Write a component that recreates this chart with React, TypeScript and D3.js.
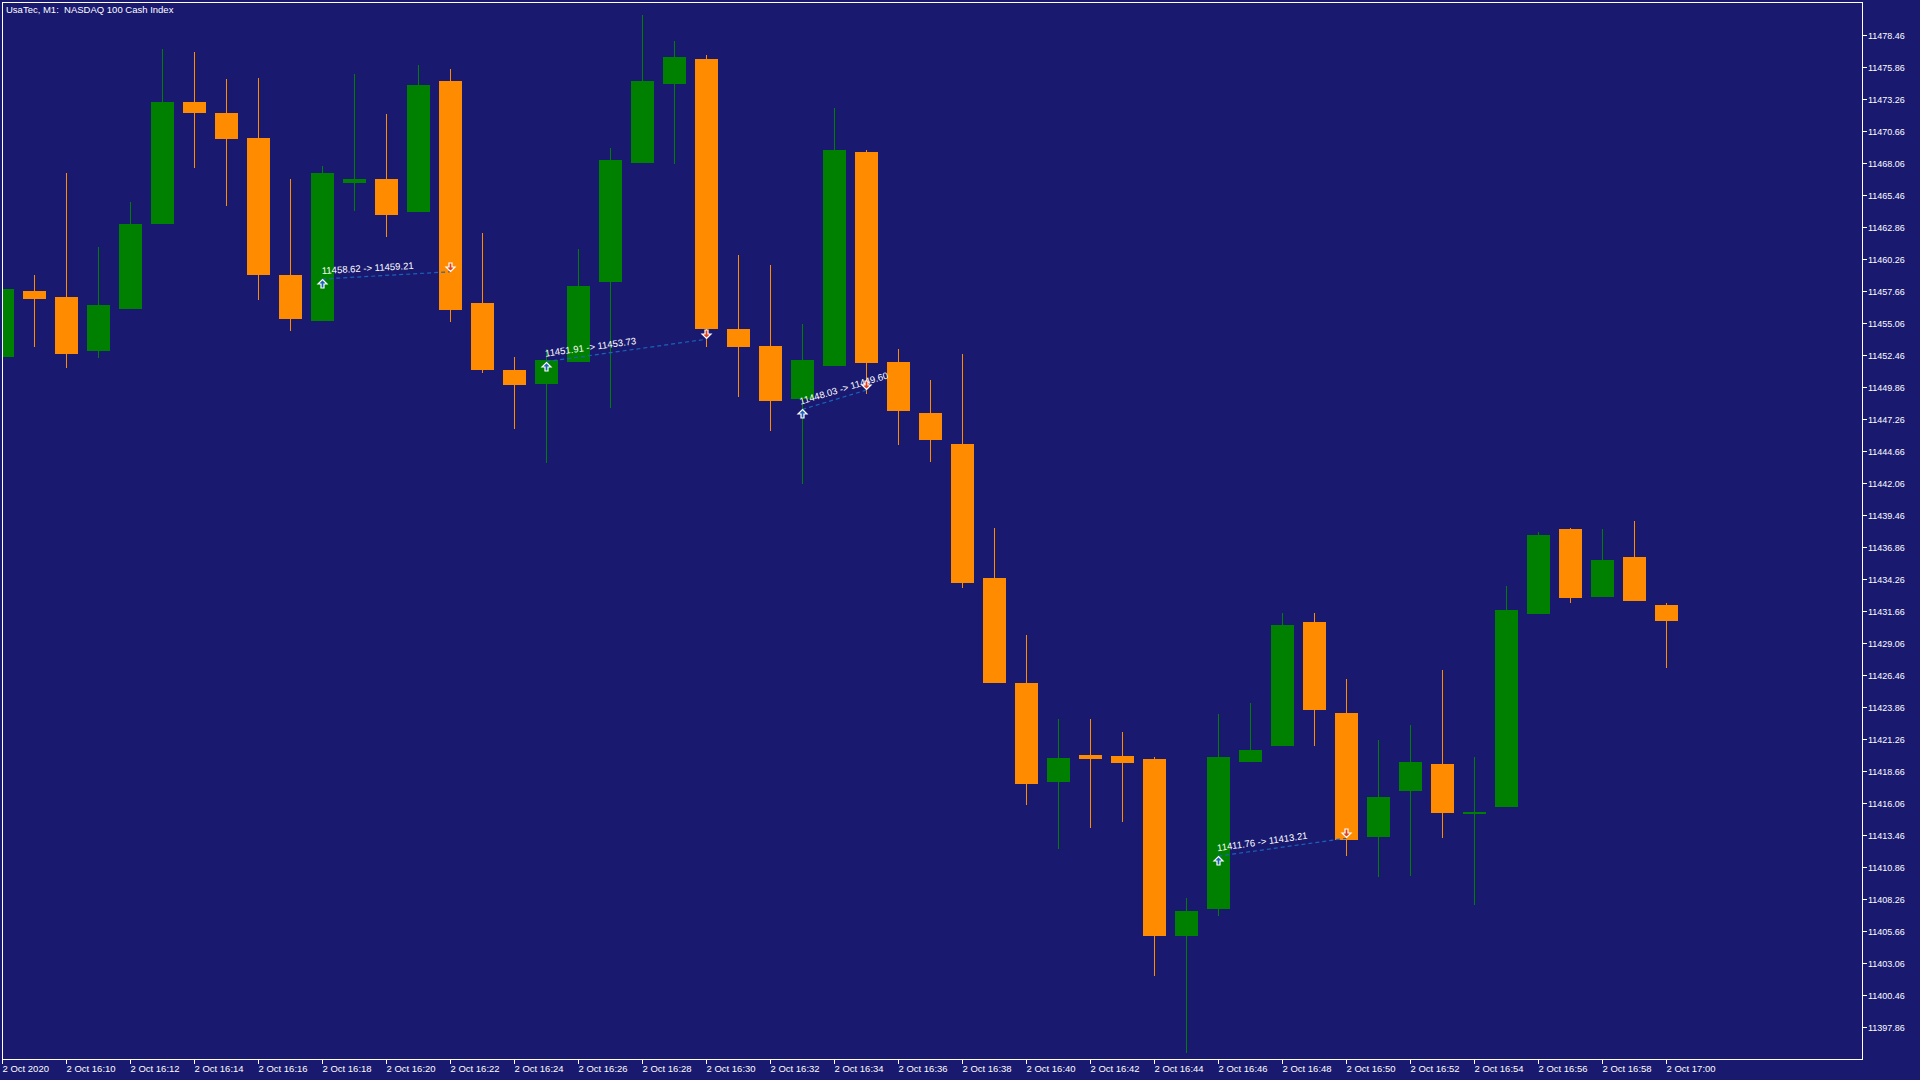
import * as d3 from 'd3';

const W = 1920;
const H = 1080;

// chart frame (MT4 style)
const frame = { left: 2.5, top: 2.5, right: 1862.5, bottom: 1059.5 };

const title = 'UsaTec, M1:  NASDAQ 100 Cash Index';

// one-minute bars, 16:08 .. 17:00
const opens = [
  11452.32, 11457.68, 11457.19, 11452.81, 11456.19, 11463.05, 11472.99, 11472.10, 11470.11, 11458.98,
  11455.20, 11466.43, 11466.73, 11464.05, 11474.68, 11456.69, 11451.22, 11450.13, 11451.92, 11458.38,
  11468.02, 11474.48, 11476.47, 11454.60, 11453.21, 11448.84, 11451.52, 11468.92, 11451.92, 11447.74,
  11445.26, 11434.32, 11425.78, 11417.82, 11420.01, 11419.91, 11419.61, 11405.30, 11407.49, 11419.41,
  11420.71, 11430.75, 11423.39, 11413.35, 11417.03, 11419.22, 11415.24, 11415.74, 11431.44, 11438.30,
  11432.83, 11436.01, 11432.14,
];
const highs = [
  11458.00, 11458.98, 11467.23, 11461.26, 11464.84, 11477.27, 11477.07, 11474.88, 11474.98, 11466.73,
  11467.82, 11475.28, 11472.00, 11475.97, 11475.68, 11462.36, 11452.30, 11452.91, 11461.06, 11469.22,
  11480.05, 11477.96, 11476.77, 11460.57, 11459.77, 11455.00, 11472.50, 11469.12, 11452.91, 11450.43,
  11452.52, 11438.40, 11429.75, 11422.89, 11422.89, 11421.80, 11419.81, 11408.38, 11423.29, 11424.19,
  11431.54, 11431.54, 11426.17, 11421.20, 11422.40, 11426.87, 11419.81, 11433.73, 11438.10, 11438.40,
  11438.30, 11439.00, 11432.34,
];
const lows = [
  11452.20, 11453.11, 11451.42, 11452.22, 11456.19, 11463.05, 11467.63, 11464.54, 11456.89, 11454.40,
  11455.20, 11464.15, 11462.06, 11464.05, 11455.10, 11451.00, 11446.45, 11443.67, 11451.92, 11448.14,
  11468.02, 11467.92, 11453.11, 11449.04, 11446.25, 11441.98, 11451.52, 11449.30, 11445.16, 11443.77,
  11433.53, 11425.78, 11415.94, 11412.36, 11414.05, 11414.54, 11402.02, 11395.76, 11406.89, 11419.41,
  11420.71, 11420.71, 11411.76, 11410.07, 11410.17, 11413.25, 11407.78, 11415.74, 11431.44, 11432.34,
  11432.83, 11432.44, 11427.07,
];
const closes = [
  11457.78, 11456.99, 11452.52, 11456.49, 11463.05, 11472.99, 11472.10, 11470.01, 11458.98, 11455.40,
  11467.23, 11466.73, 11463.85, 11474.38, 11456.09, 11451.22, 11450.03, 11452.02, 11458.08, 11468.32,
  11474.68, 11476.67, 11454.60, 11453.11, 11448.74, 11452.02, 11469.12, 11451.82, 11447.94, 11445.56,
  11433.93, 11425.78, 11417.63, 11419.71, 11419.61, 11419.31, 11405.30, 11407.29, 11419.81, 11420.41,
  11430.55, 11423.59, 11413.05, 11416.53, 11419.41, 11415.24, 11415.34, 11431.74, 11437.80, 11432.73,
  11435.82, 11432.44, 11430.85,
];

// price axis labels
const yTicks = [
  11478.46, 11475.86, 11473.26, 11470.66, 11468.06, 11465.46, 11462.86, 11460.26, 11457.66, 11455.06,
  11452.46, 11449.86, 11447.26, 11444.66, 11442.06, 11439.46, 11436.86, 11434.26, 11431.66, 11429.06,
  11426.46, 11423.86, 11421.26, 11418.66, 11416.06, 11413.46, 11410.86, 11408.26, 11405.66, 11403.06,
  11400.46, 11397.86,
];

// time axis labels, every second bar
const xTickBars = [0, 2, 4, 6, 8, 10, 12, 14, 16, 18, 20, 22, 24, 26, 28, 30, 32, 34, 36, 38, 40, 42, 44, 46, 48, 50, 52];
const xTickLabels = [
  '2 Oct 2020', '2 Oct 16:10', '2 Oct 16:12', '2 Oct 16:14', '2 Oct 16:16', '2 Oct 16:18', '2 Oct 16:20',
  '2 Oct 16:22', '2 Oct 16:24', '2 Oct 16:26', '2 Oct 16:28', '2 Oct 16:30', '2 Oct 16:32', '2 Oct 16:34',
  '2 Oct 16:36', '2 Oct 16:38', '2 Oct 16:40', '2 Oct 16:42', '2 Oct 16:44', '2 Oct 16:46', '2 Oct 16:48',
  '2 Oct 16:50', '2 Oct 16:52', '2 Oct 16:54', '2 Oct 16:56', '2 Oct 16:58', '2 Oct 17:00',
];

// closed trades: bar index and price of entry / exit
const tradeOpenBar = [10, 17, 25, 38];
const tradeOpenPrice = [11458.62, 11451.91, 11448.03, 11411.76];
const tradeCloseBar = [14, 22, 27, 42];
const tradeClosePrice = [11459.21, 11453.73, 11449.60, 11413.21];

const BG = '#191970';
const UP = '#008000';
const DOWN = '#FF8C00';
const FG = '#ffffff';
const TRADE = '#1c62b8';
const FONT = '"Liberation Sans", Arial, sans-serif';

const x = d3.scaleLinear().domain([0, 52]).range([2.3, 2.3 + 52 * 32]);
const y = d3.scaleLinear().domain([11397.86, 11478.46]).range([1027.33, 34.67]);

const bodyHalf = 11.5;

// entry marker points up with its tip on the price, exit marker points down onto it
const upArrow = 'M0,0 L4.5,4.5 L1.5,4.5 L1.5,8.5 L-1.5,8.5 L-1.5,4.5 L-4.5,4.5 Z';
const downArrow = 'M0,0 L4.5,-4.5 L1.5,-4.5 L1.5,-8.5 L-1.5,-8.5 L-1.5,-4.5 L-4.5,-4.5 Z';

export default function App() {
  const bars = d3.range(opens.length);

  return (
    <svg
      width={W}
      height={H}
      viewBox={`0 0 ${W} ${H}`}
      style={{ position: 'absolute', left: 0, top: 0, display: 'block' }}
      fontFamily={FONT}
    >
      <defs>
        <clipPath id="plot-clip">
          <rect x={frame.left} y={frame.top} width={frame.right - frame.left} height={frame.bottom - frame.top} />
        </clipPath>
      </defs>
      <rect x={0} y={0} width={W} height={H} fill={BG} />

      <g clipPath="url(#plot-clip)" shapeRendering="crispEdges">
        {bars.map(i => {
          const up = closes[i] >= opens[i];
          const col = up ? UP : DOWN;
          const cx = Math.round(x(i)) + 0.5;
          const top = y(Math.max(opens[i], closes[i]));
          const bot = y(Math.min(opens[i], closes[i]));
          return (
            <g key={i}>
              <line x1={cx} x2={cx} y1={y(highs[i])} y2={y(lows[i])} stroke={col} strokeWidth={1} />
              <rect
                x={Math.round(x(i) - bodyHalf)}
                y={top}
                width={bodyHalf * 2}
                height={Math.max(1.5, bot - top)}
                fill={col}
              />
            </g>
          );
        })}
      </g>

      <g clipPath="url(#plot-clip)">
        {tradeOpenBar.map((b, k) => {
          const x1 = x(b);
          const y1 = y(tradeOpenPrice[k]);
          const x2 = x(tradeCloseBar[k]);
          const y2 = y(tradeClosePrice[k]);
          const ang = (Math.atan2(y2 - y1, x2 - x1) * 180) / Math.PI;
          return (
            <g key={k}>
              <line x1={x1} y1={y1} x2={x2} y2={y2} stroke={TRADE} strokeWidth={1.2} strokeDasharray="4,3" />
              <text
                x={0}
                y={-5}
                transform={`translate(${x1},${y1}) rotate(${ang})`}
                fill={FG}
                fontSize={9.5}
                style={{ whiteSpace: 'pre' }}
              >
                {`${tradeOpenPrice[k].toFixed(2)} -> ${tradeClosePrice[k].toFixed(2)}`}
              </text>
              <path
                d={upArrow}
                transform={`translate(${Math.round(x1) + 0.5},${Math.round(y1) + 0.5})`}
                fill={TRADE}
                stroke={FG}
                strokeWidth={1.2}
              />
              <path
                d={downArrow}
                transform={`translate(${Math.round(x2) + 0.5},${Math.round(y2) - 0.5})`}
                fill="#e0401c"
                stroke={FG}
                strokeWidth={1.2}
              />
            </g>
          );
        })}
      </g>

      {/* frame */}
      <rect
        x={frame.left}
        y={frame.top}
        width={frame.right - frame.left}
        height={frame.bottom - frame.top}
        fill="none"
        stroke={FG}
        strokeWidth={1}
        shapeRendering="crispEdges"
      />

      {/* price axis */}
      <g shapeRendering="crispEdges">
        {yTicks.map(v => {
          const ty = Math.round(y(v)) + 0.5;
          return (
            <g key={v}>
              <line x1={frame.right} x2={frame.right + 4} y1={ty} y2={ty} stroke={FG} />
              <text x={frame.right + 5.5} y={ty} dy="0.35em" fill={FG} fontSize={9}>
                {v.toFixed(2)}
              </text>
            </g>
          );
        })}
      </g>

      {/* time axis */}
      <g shapeRendering="crispEdges">
        {xTickBars.map((b, k) => {
          const tx = Math.round(x(b)) + 0.5;
          return (
            <g key={b}>
              <line x1={tx} x2={tx} y1={frame.bottom} y2={frame.bottom + 4} stroke={FG} />
              <text x={tx} y={frame.bottom + 12.5} fill={FG} fontSize={9.5}>
                {xTickLabels[k]}
              </text>
            </g>
          );
        })}
      </g>

      <text x={6} y={12.5} fill={FG} fontSize={9.5} style={{ whiteSpace: 'pre' }}>
        {title}
      </text>
    </svg>
  );
}
